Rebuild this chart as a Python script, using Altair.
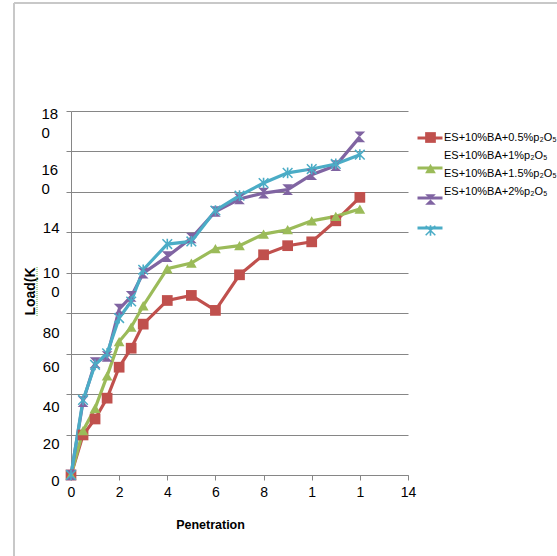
import altair as alt
import pandas as pd

# ---- data ----
penetration = [0, 0.5, 1, 1.5, 2, 2.5, 3, 4, 5, 6, 7, 8, 9, 10, 11, 12]
load_05 = [0, 19.8, 27.7, 38.0, 53.3, 62.7, 74.6, 86.3, 88.8, 81.4, 99.0, 108.9, 113.4, 115.3, 125.7, 137.3]
load_10 = [0, 21.9, 33.0, 49.0, 66.0, 73.1, 83.7, 102.0, 104.8, 111.9, 113.4, 119.1, 121.3, 125.7, 127.9, 131.5]
load_15 = [0, 36.3, 55.6, 58.6, 82.0, 88.3, 99.8, 108.0, 117.2, 130.3, 136.5, 139.4, 141.1, 148.5, 153.0, 167.2]
load_20 = [0, 37.1, 54.5, 60.2, 77.6, 85.8, 101.5, 114.2, 115.5, 130.8, 138.1, 144.4, 149.4, 151.3, 153.8, 158.4]

series_names = ["ES+10%BA+0.5%p₂O₅", "ES+10%BA+1%p₂O₅", "ES+10%BA+1.5%p₂O₅", "ES+10%BA+2%p₂O₅"]
series_colors = ["#C0504D", "#9BBB59", "#8064A2", "#4BACC6"]
marker_shapes = [
    "square",
    "triangle-up",
    "M-1,-1H1L-1,1H1Z",
    "M-0.15,-1L0.15,-1L0.15,1L-0.15,1Z M-1,-0.8L-0.8,-1L1,0.8L0.8,1Z M0.8,-1L1,-0.8L-0.8,1L-1,0.8Z",
]

x_ticks = [0, 2, 4, 6, 8, 10, 12, 14]
y_ticks = [0, 20, 40, 60, 80, 100, 120, 140, 160, 180]

rows = []
for name, vals in zip(series_names, [load_05, load_10, load_15, load_20]):
    for xv, yv in zip(penetration, vals):
        rows.append({"Penetration": xv, "Load": yv, "series": name, "marker": name, "label": name})
df = pd.DataFrame(rows)

AX = "#868686"
FONT = "Liberation Sans"

y_label_expr = (
    "datum.value == 180 ? ['18', '0'] : datum.value == 160 ? ['16', '0'] : "
    "datum.value == 140 ? '14' : datum.value == 120 ? '' : "
    "datum.value == 100 ? ['10', '0'] : datum.label"
)
y_label_offset = (
    "datum.value == 0 ? 5 : datum.value == 20 ? 9 : datum.value == 40 ? 12 : "
    "datum.value == 60 ? 13 : datum.value == 80 ? 19 : datum.value == 100 ? 0 : "
    "datum.value == 140 ? 36 : datum.value == 160 ? 18 : 2"
)

x_axis = alt.Axis(
    values=x_ticks, grid=False, title="Penetration",
    titleFont=FONT, titleFontSize=12.5, titleFontWeight="bold", titleColor="black",
    titleX=139, titleY=49, titleAlign="center", titleBaseline="middle", titleAnchor="start",
    labelExpr="datum.value == 10 || datum.value == 12 ? '1' : datum.label",
    labelFont=FONT, labelFontSize=14, labelColor="black", labelPadding=5, labelFlush=False,
    labelOverlap=False, tickSize=5, tickColor=AX, domainColor=AX,
)
y_axis = alt.Axis(
    values=y_ticks, grid=True, gridColor=AX, gridWidth=1, title="Load(K",
    titleFont=FONT, titleFontSize=14, titleFontWeight="bold", titleColor="black",
    titleX=-41, titleY=180, titleAlign="center", titleBaseline="middle", titleAnchor="start",
    labelExpr=y_label_expr, labelOffset=alt.ExprRef(y_label_offset),
    labelAlign=alt.ExprRef("datum.value >= 160 ? 'left' : 'right'"),
    labelPadding=alt.ExprRef("datum.value >= 160 ? 25 : 7"),
    labelFont=FONT, labelFontSize=15, labelLineHeight=19, labelColor="black",
    labelBaseline="middle", labelOverlap=False, labelBound=False,
    tickSize=5, tickColor=AX, domainColor=AX,
)

# symbol-only legends (line segment + marker drawn on top of each other)
symbol_legend = dict(
    orient="none", title=None, direction="vertical", gridAlign="all",
    labelExpr="''", labelFontSize=1, labelOffset=0, padding=0,
)
legend_lines = alt.Legend(
    legendX=345, legendY=13, rowPadding=10, symbolType="stroke", symbolSize=625,
    symbolStrokeWidth=3, symbolOpacity=1, **symbol_legend,
)
legend_points = alt.Legend(
    legendX=354, legendY=21, rowPadding=20, symbolSize=115, symbolStrokeWidth=0,
    symbolOpacity=1, **symbol_legend,
)
# text-only legend carrying the series names
legend_text = alt.Legend(
    orient="none", title=None, direction="vertical", legendX=362, legendY=21,
    rowPadding=6, symbolSize=0, symbolOpacity=0, symbolStrokeWidth=0, labelOffset=0,
    labelFont=FONT, labelFontSize=11, labelColor="black", labelLimit=300,
    labelBaseline="middle", padding=0,
)

base = alt.Chart(df)
x_enc = alt.X("Penetration:Q", scale=alt.Scale(domain=[0, 14], nice=False), axis=x_axis)
y_enc = alt.Y("Load:Q", scale=alt.Scale(domain=[0, 180], nice=False), axis=y_axis)

lines = base.mark_line(strokeWidth=3.2).encode(
    x=x_enc, y=y_enc,
    stroke=alt.Stroke("series:N", sort=series_names, scale=alt.Scale(range=series_colors), legend=legend_lines),
)
points = base.mark_point(filled=True, size=115).encode(
    x=x_enc, y=y_enc,
    fill=alt.Fill("marker:N", scale=alt.Scale(domain=series_names, range=series_colors), legend=legend_points),
    shape=alt.Shape("marker:N", scale=alt.Scale(domain=series_names, range=marker_shapes), legend=legend_points),
    opacity=alt.Opacity("label:O", sort=series_names, scale=alt.Scale(range=[1, 1, 1, 1]), legend=legend_text),
)

frame_df = pd.DataFrame({"k": [0]})
frame_left = alt.Chart(frame_df).mark_rule(color="#C8C8C8", strokeWidth=2).encode(
    x=alt.value(-57), y=alt.value(-108), y2=alt.value(445)
)
frame_top = alt.Chart(frame_df).mark_rule(color="#C8C8C8", strokeWidth=2).encode(
    x=alt.value(-57), x2=alt.value(486), y=alt.value(-108)
)
squiggle = alt.Chart(frame_df).mark_rule(color="#5DAA3C", strokeWidth=1, strokeDash=[1, 1]).encode(
    x=alt.value(-34), y=alt.value(156), y2=alt.value(205)
)

chart = alt.layer(frame_left, frame_top, squiggle, lines, points).properties(
    width=337, height=364,
    padding={"left": 71, "top": 111, "right": 149, "bottom": 81},
    autosize=alt.AutoSizeParams(type="none"),
    background="white",
).configure_view(stroke=None)

chart.save("out.html", embed_options={"renderer": "svg", "actions": False})
